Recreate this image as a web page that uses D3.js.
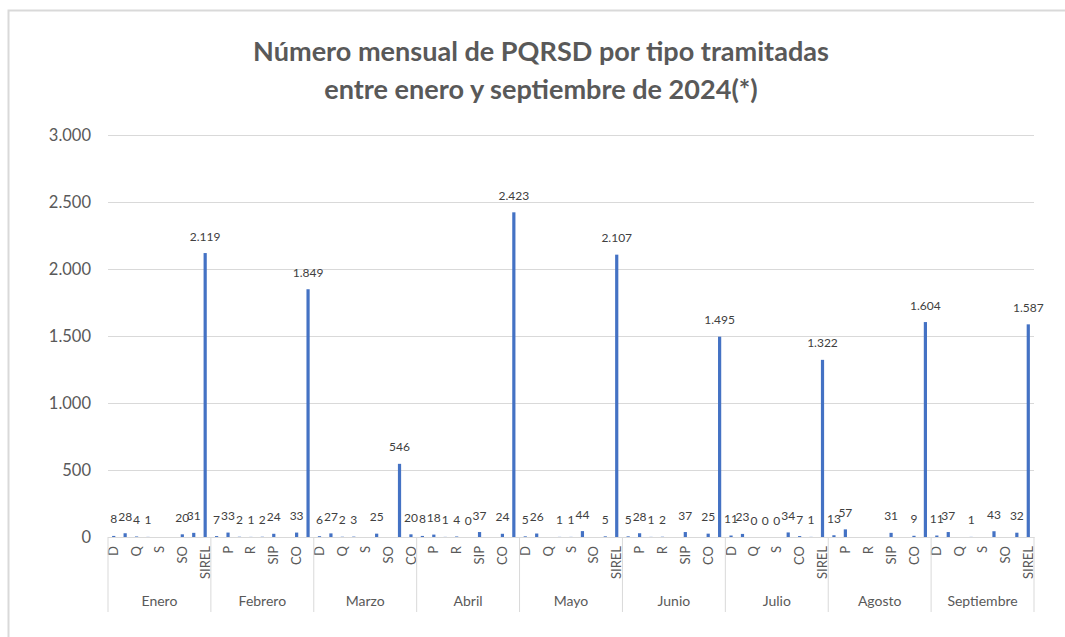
<!DOCTYPE html>
<html>
<head>
<meta charset="utf-8">
<script src="https://cdn.jsdelivr.net/npm/d3@7"></script>
<style>
  html, body { margin: 0; padding: 0; background: #ffffff; }
  svg { display: block; font-family: Lato, "Open Sans", sans-serif; }
</style>
</head>
<body>
<svg id="chart" width="1065" height="637"></svg>
<script>
// ---- Data ----
const titleLines = ["Número mensual de PQRSD por tipo tramitadas", "entre enero y septiembre de 2024(*)"];
const months = ["Enero", "Febrero", "Marzo", "Abril", "Mayo", "Junio", "Julio", "Agosto", "Septiembre"];
const ordenBase  = ["D", "P", "Q", "R", "S", "SIP", "SO", "CO", "SIREL"];
const ordenMarzo = ["D", "P", "Q", "R", "S", "SIP", "SO", "SIREL", "CO"];
const ordenJulio = ["D", "P", "Q", "R", "S", "SIP", "CO", "SO", "SIREL"];
const ordenPorMes = [ordenBase, ordenBase, ordenMarzo, ordenBase, ordenBase, ordenBase, ordenJulio, ordenBase, ordenBase];
const enero      = [8, 28, 4, 1, null, null, 20, 31, 2119];
const febrero    = [7, 33, 2, 1, 2, 24, null, 33, 1849];
const marzo      = [6, 27, 2, 3, null, 25, null, 546, 20];
const abril      = [8, 18, 1, 4, 0, 37, null, 24, 2423];
const mayo       = [5, 26, null, 1, 1, 44, null, 5, 2107];
const junio      = [5, 28, 1, 2, null, 37, null, 25, 1495];
const julio      = [11, 23, 0, 0, 0, 34, 7, 1, 1322];
const agosto     = [13, 57, null, null, null, 31, null, 9, 1604];
const septiembre = [11, 37, null, 1, null, 43, null, 32, 1587];
const valoresPorMes = [enero, febrero, marzo, abril, mayo, junio, julio, agosto, septiembre];
const yTicks = [0, 500, 1000, 1500, 2000, 2500, 3000];

// ---- Build flat table ----
const data = [];
months.forEach((m, mi) => {
  ordenPorMes[mi].forEach((t, ti) => {
    data.push({ month: m, tipo: t, value: valoresPorMes[mi][ti], key: m + "|" + t, idx: data.length });
  });
});

const locale = d3.formatLocale({ decimal: ",", thousands: ".", grouping: [3], currency: ["$", ""] });
const fmt = locale.format(",d");

const svg = d3.select("#chart");
const W = 1065, H = 637;
const plot = { left: 108, right: 1034, top: 135, bottom: 537 };

// chart frame
svg.append("rect")
  .attr("x", 8.5).attr("y", 10.5)
  .attr("width", W + 20).attr("height", H + 20)
  .attr("fill", "#ffffff").attr("stroke", "#d9d9d9").attr("stroke-width", 2);

// scales
const pInner = 0.72;
const x = d3.scaleBand()
  .domain(data.map(d => d.key))
  .range([plot.left, plot.right])
  .paddingInner(pInner)
  .paddingOuter(pInner / 2);
const y = d3.scaleLinear().domain([0, 3000]).range([plot.bottom, plot.top]);

// y axis + gridlines
const yAxis = svg.append("g")
  .attr("transform", `translate(${plot.left},0)`)
  .call(d3.axisLeft(y).tickValues(yTicks).tickSize(-(plot.right - plot.left)).tickPadding(17).tickFormat(fmt));
yAxis.select(".domain").remove();
yAxis.selectAll(".tick line").attr("stroke", "#d9d9d9").attr("stroke-width", 1);
yAxis.selectAll(".tick text")
  .attr("fill", "#595959").style("font-size", "16.5px").style("font-family", "Lato, sans-serif");

// bars
svg.append("g").selectAll("rect")
  .data(data.filter(d => d.value !== null))
  .join("rect")
  .attr("x", d => x(d.key))
  .attr("width", x.bandwidth())
  .attr("y", d => y(d.value))
  .attr("height", d => y(0) - y(d.value))
  .attr("fill", "#4472c4");

// data labels
svg.append("g").selectAll("text")
  .data(data.filter(d => d.value !== null))
  .join("text")
  .attr("x", d => x(d.key) + x.bandwidth() / 2)
  .attr("y", d => y(d.value) - 12.5)
  .attr("text-anchor", "middle")
  .attr("fill", "#404040")
  .style("font-size", "12px")
  .text(d => fmt(d.value));

// x axis (inner level: every other label, rotated)
const xAxis = svg.append("g")
  .attr("transform", `translate(0,${plot.bottom})`)
  .call(d3.axisBottom(x).tickSize(0).tickSizeOuter(0)
    .tickFormat((k, i) => (i % 2 === 0 ? data[i].tipo : "")));
xAxis.select(".domain").attr("stroke", "#d9d9d9").attr("stroke-width", 1);
xAxis.selectAll(".tick text")
  .attr("transform", "rotate(-90)")
  .attr("text-anchor", "end")
  .attr("x", -9)
  .attr("y", 0)
  .attr("dy", "0.35em")
  .attr("fill", "#595959")
  .style("font-size", "13px")
  .style("font-family", "Lato, sans-serif");

// outer level: months with separators
const step = x.step();
const gap = (step - x.bandwidth()) / 2;
const groups = months.map(m => {
  const keys = data.filter(d => d.month === m).map(d => d.key);
  return { month: m, x0: x(keys[0]) - gap, x1: x(keys[keys.length - 1]) + x.bandwidth() + gap };
});
const sepG = svg.append("g");
const bounds = [groups[0].x0].concat(groups.map(g => g.x1));
sepG.selectAll("line")
  .data(bounds)
  .join("line")
  .attr("x1", d => d).attr("x2", d => d)
  .attr("y1", plot.bottom).attr("y2", 612)
  .attr("stroke", "#d9d9d9").attr("stroke-width", 1);
svg.append("g").selectAll("text")
  .data(groups)
  .join("text")
  .attr("x", d => (d.x0 + d.x1) / 2)
  .attr("y", 606)
  .attr("text-anchor", "middle")
  .attr("fill", "#595959")
  .style("font-size", "14px")
  .text(d => d.month);

// title
const title = svg.append("g");
const baseSize = 25;
const tl = title.selectAll("text")
  .data(titleLines)
  .join("text")
  .attr("x", 541)
  .attr("y", (d, i) => 61 + i * 38)
  .attr("text-anchor", "middle")
  .attr("fill", "#595959")
  .style("font-weight", "bold")
  .style("font-size", baseSize + "px")
  .text(d => d);
const firstLen = tl.node().getComputedTextLength();
const targetLen = 576;
const newSize = Math.max(20, Math.min(30, baseSize * targetLen / firstLen));
tl.style("font-size", newSize + "px");
</script>
</body>
</html>
